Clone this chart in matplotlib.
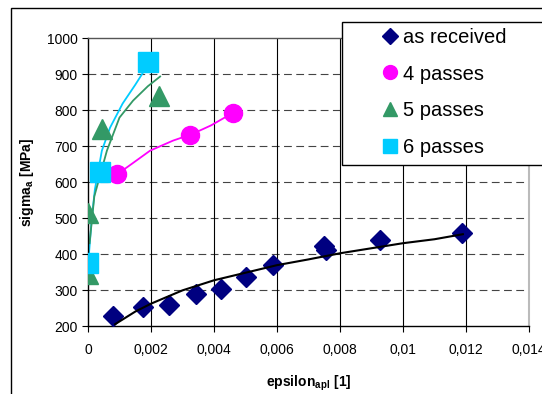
import matplotlib
matplotlib.use("Agg")
import matplotlib.pyplot as plt
from matplotlib.lines import Line2D
from matplotlib.patches import Rectangle

plt.rcParams["font.family"] = ["Liberation Sans", "DejaVu Sans"]
plt.rcParams["mathtext.fontset"] = "custom"
plt.rcParams["mathtext.rm"] = "Liberation Sans"
plt.rcParams["mathtext.bf"] = "Liberation Sans:bold"

# as received
ar_x = [0.00079, 0.00175, 0.00257, 0.00343, 0.00422, 0.00502, 0.00587, 0.00750, 0.00755, 0.00927, 0.01187]
ar_y = [228, 253, 258, 289, 302, 336, 369, 422, 410, 438, 458]
ar_fit_x = [0.00086, 0.0015, 0.002, 0.003, 0.004, 0.005, 0.006, 0.007, 0.008, 0.009, 0.010, 0.011, 0.0119]
ar_fit_y = [205, 240, 262, 299, 327, 348, 369, 385, 402, 416, 430, 441, 455]

# 4 passes
p4_x = [0.00092, 0.00324, 0.0046]
p4_y = [621, 731, 792]
p4_fit_x = [0.00092, 0.0014, 0.00197, 0.0027, 0.0033, 0.0039, 0.0046]
p4_fit_y = [621, 651, 687, 715, 733, 757, 792]

# 5 passes
p5_x = [0.0, 0.0, 0.00044, 0.00226]
p5_y = [345, 515, 748, 840]
p5_fit_x = [0.00005, 0.0002, 0.0006, 0.001, 0.00143, 0.0019, 0.00229]
p5_fit_y = [430, 560, 687, 779, 826, 866, 893]

# 6 passes
p6_x = [0.0, 0.00038, 0.0019]
p6_y = [374, 627, 934]
p6_fit_x = [0.00003, 0.00012, 0.00022, 0.00044, 0.0007, 0.0011, 0.0015, 0.0019]
p6_fit_y = [400, 500, 580, 687, 751, 818, 870, 925]

x_ticks = [0, 0.002, 0.004, 0.006, 0.008, 0.010, 0.012, 0.014]
x_tick_labels = ["0", "0,002", "0,004", "0,006", "0,008", "0,01", "0,012", "0,014"]
y_ticks = [200, 300, 400, 500, 600, 700, 800, 900, 1000]

NAVY = "#000080"
MAGENTA = "#FF00FF"
GREEN = "#339966"
CYAN = "#00CCFF"

fig = plt.figure(figsize=(5.42, 3.94), dpi=100)
ax = fig.add_axes([88 / 542, 68 / 394, 441 / 542, 288 / 394])

# grid
for y in y_ticks[1:-1]:
    ax.axhline(y, color="#444444", lw=0.8, ls=(0, (7, 4)), zorder=1)
for x in x_ticks[1:-1]:
    ax.axvline(x, color="black", lw=0.8, zorder=1)

# fitted lines
ax.plot(p6_fit_x, p6_fit_y, color=CYAN, lw=1.3, zorder=2)
ax.plot(p5_fit_x, p5_fit_y, color=GREEN, lw=1.3, zorder=2)
ax.plot(p4_fit_x, p4_fit_y, color=MAGENTA, lw=1.3, zorder=2)
ax.plot(ar_fit_x, ar_fit_y, color="black", lw=1.5, zorder=4)

# markers
ax.plot(ar_x, ar_y, ls="none", marker="D", ms=10, color=NAVY, zorder=3)
ax.plot(p4_x, p4_y, ls="none", marker="o", ms=13, color=MAGENTA, zorder=3)
ax.plot(p5_x, p5_y, ls="none", marker="^", ms=14, color=GREEN, zorder=3)
ax.plot(p6_x, p6_y, ls="none", marker="s", ms=14, color=CYAN, zorder=3)

ax.set_xlim(0, 0.014)
ax.set_ylim(200, 1000)
ax.set_xticks(x_ticks)
ax.set_xticklabels(x_tick_labels)
ax.set_yticks(y_ticks)
ax.tick_params(labelsize=10, length=4, width=0.8, color="black", direction="out")
ax.tick_params(axis="x", pad=8)

ax.spines["left"].set_color("black")
ax.spines["bottom"].set_color("black")
ax.spines["top"].set_color("#555555")
ax.spines["right"].set_color("#BBBBBB")
for s in ax.spines.values():
    s.set_linewidth(1.0)
ax.spines["right"].set_linewidth(1.5)

ax.set_xlabel(r"$\mathbf{epsilon_{apl}\ [1]}$", fontsize=10, labelpad=12)
ax.set_ylabel(r"$\mathbf{sigma_{a}\ [MPa]}$", fontsize=10, labelpad=8)

# outer chart border
fig.patches.append(Rectangle((11 / 542, -0.1), 1.2, (394 - 8) / 394 + 0.1,
                             transform=fig.transFigure, fill=False,
                             edgecolor="black", lw=1.0, zorder=0))

# legend box
fig.patches.append(Rectangle((342 / 542, (394 - 165) / 394), 0.5, 143 / 394,
                             transform=fig.transFigure, facecolor="white",
                             edgecolor="black", lw=1.0, zorder=3))

handles = [
    Line2D([], [], ls="none", marker="D", ms=8, color=NAVY),
    Line2D([], [], ls="none", marker="o", ms=10, color=MAGENTA),
    Line2D([], [], ls="none", marker="^", ms=10, color=GREEN),
    Line2D([], [], ls="none", marker="s", ms=10, color=CYAN),
]
labels = ["as received", "4 passes", "5 passes", "6 passes"]
fig.legend(handles, labels, loc="upper left",
           bbox_to_anchor=(380 / 542, (394 - 28) / 394),
           frameon=False, fontsize=14.5, borderpad=0, borderaxespad=0,
           handlelength=1.0, handletextpad=0.15, labelspacing=0.87,
           numpoints=1)

fig.savefig("out.png", dpi=100)
